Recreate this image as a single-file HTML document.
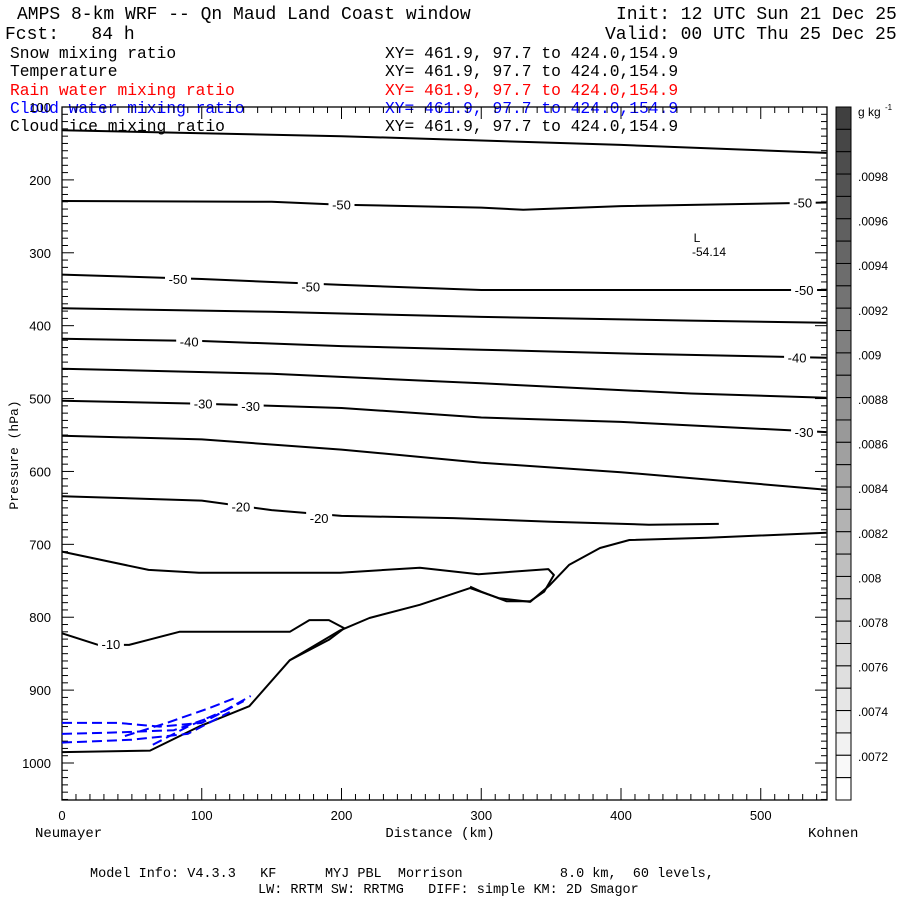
<!DOCTYPE html>
<html><head><meta charset="utf-8"><style>
body{margin:0;background:#fff}
svg text{font-family:"Liberation Mono",monospace;white-space:pre}
.s{font-family:"Liberation Sans",sans-serif}
</style></head><body>
<svg id="c" width="900" height="900" xmlns="http://www.w3.org/2000/svg" xml:space="preserve">
<text x="17" y="19" font-size="18">AMPS 8-km WRF -- Qn Maud Land Coast window</text>
<text x="616" y="19" font-size="18">Init: 12 UTC Sun 21 Dec 25</text>
<text x="5" y="39" font-size="18">Fcst:   84 h</text>
<text x="605" y="39" font-size="18">Valid: 00 UTC Thu 25 Dec 25</text>
<g font-size="16.3">
<text x="10" y="58">Snow mixing ratio</text><text x="385" y="58">XY= 461.9, 97.7 to 424.0,154.9</text>
<text x="10" y="76">Temperature</text><text x="385" y="76">XY= 461.9, 97.7 to 424.0,154.9</text>
<text x="10" y="95" fill="#f00">Rain water mixing ratio</text><text x="385" y="95" fill="#f00">XY= 461.9, 97.7 to 424.0,154.9</text>
<text x="10" y="113" fill="#00f">Cloud water mixing ratio</text><text x="385" y="113" fill="#00f">XY= 461.9, 97.7 to 424.0,154.9</text>
<text x="10" y="131">Cloud ice mixing ratio</text><text x="385" y="131">XY= 461.9, 97.7 to 424.0,154.9</text>
</g>
<g id="plot"></g>
<text x="90" y="877" font-size="13.5">Model Info: V4.3.3   KF      MYJ PBL  Morrison            8.0 km,  60 levels,</text>
<text x="258" y="893" font-size="13.5">LW: RRTM SW: RRTMG   DIFF: simple KM: 2D Smagor</text>
</svg>
<script>
const xTicks=[0,100,200,300,400,500];
const pTicks=[100,200,300,400,500,600,700,800,900,1000];
const cbLabels=[".0098",".0096",".0094",".0092",".009",".0088",".0086",".0084",".0082",".008",".0078",".0076",".0074",".0072"];
const cbValues=[0.0098,0.0096,0.0094,0.0092,0.0090,0.0088,0.0086,0.0084,0.0082,0.0080,0.0078,0.0076,0.0074,0.0072];
const isoA=[[0,132],[100,136],[200,140],[300,146],[400,152],[547,163]];
const isoB=[[0,229],[150,230],[200,234],[300,238],[330,241],[400,236],[547,231]];
const isoC=[[0,330],[100,336],[200,344],[300,351],[400,351],[547,351]];
const isoD=[[0,376],[150,381],[300,388],[450,393],[547,396]];
const isoE=[[0,418],[100,421],[200,428],[300,433],[400,438],[547,444]];
const isoF=[[0,459],[150,466],[300,479],[450,493],[547,499]];
const isoG=[[0,503],[100,507],[200,513],[300,526],[400,532],[547,546]];
const isoH=[[0,551],[100,556],[200,570],[300,588],[400,601],[547,625]];
const isoI=[[0,634],[100,640],[150,653],[200,661],[280,664],[350,669],[420,673],[470,672]];
const isoJ=[[0,710],[62,735],[98,739],[199,739],[256,732],[298,741],[348,734],[352,742],[345,765],[335,778],[318,778],[300,765],[292,758]];
const isoK=[[0,822],[26,838],[48,838],[62,831],[84,820],[163,820],[177,804],[191,804],[202,815],[191,831],[163,859]];
const terrain=[[0,985],[63,983],[98,950],[134,922],[163,859],[199,818],[220,801],[256,783],[292,760],[313,774],[335,779],[349,756],[363,728],[385,705],[406,694],[462,691],[547,684]];
const cwA=[[0,945],[40,945],[70,950],[100,945],[130,915]];
const cwB=[[0,960],[40,958],[80,955],[110,935],[135,908]];
const cwC=[[0,972],[50,968],[90,960],[120,930]];
const cwD=[[65,975],[90,950],[120,925]];
const cwE=[[45,963],[75,945],[105,925],[125,910]];
const labels=[["-50",200,234],["-50",530,231],["-50",83,336],["-50",178,346],["-50",531,351],["-40",91,422],["-40",526,444],["-30",101,507],["-30",135,510],["-30",531,546],["-20",128,648],["-20",184,664],["-10",35,837]];
const X0=62,X1=827,Y0=107,Y1=800;
const xs=k=>X0+k*1.3975;
const ys=p=>107+(p-100)*0.7289;
const NS="http://www.w3.org/2000/svg";
const g=document.getElementById('plot');
function mk(t,a,parent){const e=document.createElementNS(NS,t);for(const k in a)e.setAttribute(k,a[k]);(parent||g).appendChild(e);return e;}
const nb=31,bh=(Y1-Y0)/nb;
for(let i=0;i<nb;i++){const v=Math.round(64+(255-64)*i/(nb-1));
const r=mk('rect',{x:836,y:Y0+i*bh,width:15,height:bh,fill:`rgb(${v},${v},${v})`,stroke:'#000','stroke-width':1});

}
const cbv=v=>177+(0.0098-v)/0.0001*22.3;
cbLabels.forEach((l,i)=>{const t=mk('text',{x:858,y:cbv(cbValues[i])+4,'font-size':12,class:'s'});t.textContent=l;

});
const u=mk('text',{x:858,y:116,'font-size':12,class:'s'});u.textContent='g kg';


const u2=mk('text',{x:885,y:110,'font-size':8,class:'s'});u2.textContent='-1';
const f=mk('rect',{x:X0,y:Y0,width:X1-X0,height:Y1-Y0,fill:'none',stroke:'#000','stroke-width':1.3});


for(let k=0;k<=540;k+=10){const big=k%100==0,L=big?12:6;
mk('line',{x1:xs(k),x2:xs(k),y1:Y1,y2:Y1-L,stroke:'#000'});mk('line',{x1:xs(k),x2:xs(k),y1:Y0,y2:Y0+L,stroke:'#000'});}
for(let p=100;p<=1050;p+=10){const big=p%100==0,L=big?12:6;
mk('line',{x1:X0,x2:X0+L,y1:ys(p),y2:ys(p),stroke:'#000'});mk('line',{x1:X1,x2:X1-L,y1:ys(p),y2:ys(p),stroke:'#000'});}
xTicks.forEach(k=>{const t=mk('text',{x:xs(k),y:820,'font-size':13,'text-anchor':'middle',class:'s'});t.textContent=k;

});
pTicks.forEach(p=>{const t=mk('text',{x:51,y:ys(p)+5,'font-size':13,'text-anchor':'end',class:'s'});t.textContent=p;

});
const xt=mk('text',{x:440,y:837,'font-size':14,'text-anchor':'middle'});xt.textContent='Distance (km)';


const n1=mk('text',{x:35,y:837,'font-size':14});n1.textContent='Neumayer';


const n2=mk('text',{x:808,y:837,'font-size':14});n2.textContent='Kohnen';


const yt=mk('text',{x:18,y:455,'font-size':13,'text-anchor':'middle',transform:'rotate(-90 18 455)'});yt.textContent='Pressure (hPa)';


function line(pts,opt,name){const d=pts.map((q,i)=>(i?'L':'M')+xs(q[0]).toFixed(1)+','+ys(q[1]).toFixed(1)).join('');
const e=mk('path',Object.assign({d:d,fill:'none','stroke-linejoin':'round'},opt));

}
[isoA,isoB,isoC,isoD,isoE,isoF,isoG,isoH,isoI,isoJ,isoK].forEach(a=>line(a,{stroke:'#000','stroke-width':2},'temperature-contour'));
line(terrain,{stroke:'#000','stroke-width':2},'terrain-contour');
[cwA,cwB,cwC,cwD,cwE].forEach(a=>line(a,{stroke:'#00f','stroke-width':2,'stroke-dasharray':'10 5'},'cloud-water-contour'));
labels.forEach(l=>{mk('rect',{x:xs(l[1])-13,y:ys(l[2])-7,width:26,height:14,fill:'#fff'});
const t=mk('text',{x:xs(l[1]),y:ys(l[2])+5,'font-size':13,'text-anchor':'middle',class:'s'});t.textContent=l[0];

});
const L1=mk('text',{x:697,y:242,'font-size':12,'text-anchor':'middle',class:'s'});L1.textContent='L';


const L2=mk('text',{x:709,y:256,'font-size':12,'text-anchor':'middle',class:'s'});L2.textContent='-54.14';


</script>
</body></html>
